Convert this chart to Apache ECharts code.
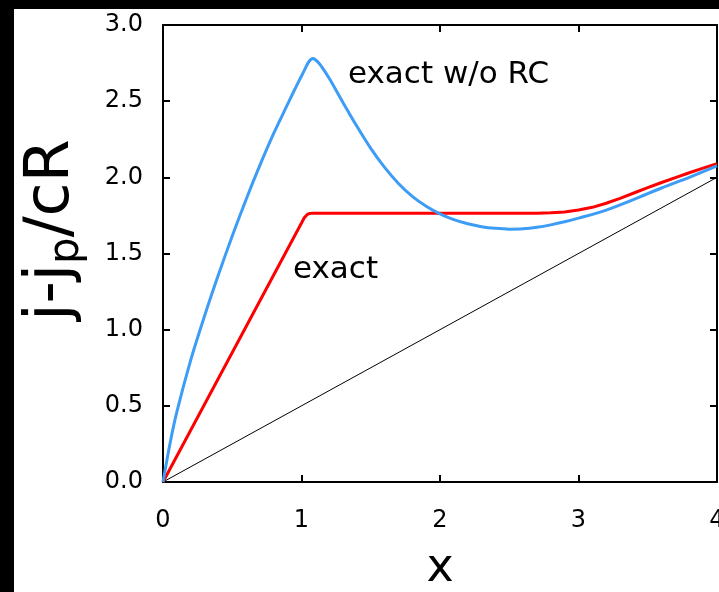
<!DOCTYPE html>
<html>
<head>
<meta charset="utf-8">
<script src="https://cdn.jsdelivr.net/npm/echarts@6/dist/echarts.min.js"></script>
<style>
  html, body { margin: 0; padding: 0; background: #000; }
  #main { position: absolute; left: 14px; top: 9px; width: 705px; height: 583px; background: #fff; }
</style>
</head>
<body>
<div id="main"></div>
<script>
// x ticks and y ticks
var xTicks = [0, 1, 2, 3, 4];
var yTicks = [0, 0.5, 1.0, 1.5, 2.0, 2.5, 3.0];

// exact w/o RC (blue)
var blueX = [0, 0.05, 0.1, 0.2, 0.3, 0.4, 0.5, 0.6, 0.7, 0.8, 0.9, 0.95, 1.0, 1.03, 1.05, 1.07, 1.085, 1.1, 1.12, 1.15, 1.2, 1.3, 1.4, 1.5, 1.6, 1.7, 1.8, 1.9, 2.0, 2.1, 2.2, 2.3, 2.4, 2.5, 2.6, 2.7, 2.8, 2.9, 3.0, 3.2, 3.4, 3.6, 3.8, 4.0];
var blueY = [0, 0.25, 0.46, 0.8, 1.09, 1.36, 1.615, 1.855, 2.08, 2.29, 2.48, 2.575, 2.665, 2.72, 2.755, 2.775, 2.78, 2.772, 2.755, 2.72, 2.65, 2.49, 2.335, 2.19, 2.065, 1.96, 1.875, 1.81, 1.76, 1.722, 1.695, 1.676, 1.665, 1.66, 1.662, 1.672, 1.688, 1.708, 1.732, 1.785, 1.855, 1.93, 2.0, 2.075];

// exact (red)
var redX = [0, 1.0, 1.02, 1.04, 1.06, 1.08, 2.7, 2.8, 2.9, 3.0, 3.1, 3.2, 3.3, 3.4, 3.5, 3.6, 3.7, 3.8, 3.9, 4.0];
var redY = [0, 1.70, 1.735, 1.755, 1.763, 1.765, 1.765, 1.767, 1.773, 1.785, 1.803, 1.83, 1.862, 1.897, 1.932, 1.966, 1.998, 2.03, 2.06, 2.09];

// reference line y = x/2
var refX = [0, 4];
var refY = [0, 2];

function zip(a, b) {
	var out = [];
	for (var i = 0; i < a.length; i++) out.push([a[i], b[i]]);
	return out;
}

var FONT = 'DejaVu Sans';
var chart = echarts.init(document.getElementById('main'));

var axisCommon = {
	axisLine: { show: true, onZero: false, lineStyle: { color: '#000', width: 2 } },
	axisTick: { show: true, inside: true, length: 7, lineStyle: { color: '#000', width: 2 } },
	splitLine: { show: false }
};

var option = {
	backgroundColor: '#fff',
	animation: false,
	grid: { left: 149, top: 16, right: 2, bottom: 110, outerBoundsMode: 'none', containLabel: false },
	xAxis: [
		Object.assign({
			type: 'value', min: xTicks[0], max: xTicks[xTicks.length - 1], interval: 1,
			position: 'bottom',
			name: 'x', nameLocation: 'middle', nameGap: 64,
			nameTextStyle: { fontFamily: FONT, fontSize: 46, color: '#000' },
			axisLabel: { fontFamily: FONT, fontSize: 24, color: '#000', margin: 27 }
		}, axisCommon),
		Object.assign({
			type: 'value', min: 0, max: 4, interval: 1, position: 'top',
			axisLabel: { show: false }
		}, axisCommon)
	],
	yAxis: [
		Object.assign({
			type: 'value', min: yTicks[0], max: yTicks[yTicks.length - 1], interval: 0.5,
			position: 'left',
			axisLabel: { fontFamily: FONT, fontSize: 24, color: '#000', margin: 20,
				formatter: function (v) { return v.toFixed(1); } }
		}, axisCommon),
		Object.assign({
			type: 'value', min: 0, max: 3, interval: 0.5, position: 'right',
			axisLabel: { show: false }
		}, axisCommon)
	],
	graphic: [
		{ type: 'text', left: 334, top: 50,
			style: { text: 'exact w/o RC', font: '31px "DejaVu Sans"', fill: '#000' } },
		{ type: 'text', left: 279, top: 245,
			style: { text: 'exact', font: '31px "DejaVu Sans"', fill: '#000' } },
		{ type: 'text', x: 38, y: 221, rotation: Math.PI / 2,
			style: {
				text: '{a|j-j}{s|p}{a|/cR}',
				align: 'center', verticalAlign: 'middle',
				rich: {
					a: { fontFamily: FONT, fontSize: 62, fill: '#000', color: '#000' },
					s: { fontFamily: FONT, fontSize: 42, fill: '#000', color: '#000', padding: [30, 0, 0, 0] }
				}
			} }
	],
	series: [
		{
			type: 'line', data: zip(refX, refY), symbol: 'none',
			lineStyle: { color: '#000', width: 1 }, z: 1
		},
		{
			type: 'line', data: zip(redX, redY), symbol: 'none', smooth: false,
			lineStyle: { color: '#ff0000', width: 3 }, z: 2
		},
		{
			type: 'line', data: zip(blueX, blueY), symbol: 'none', smooth: 0.3,
			lineStyle: { color: '#3d9cf5', width: 3 }, z: 3
		}
	]
};

chart.setOption(option);
</script>
</body>
</html>
